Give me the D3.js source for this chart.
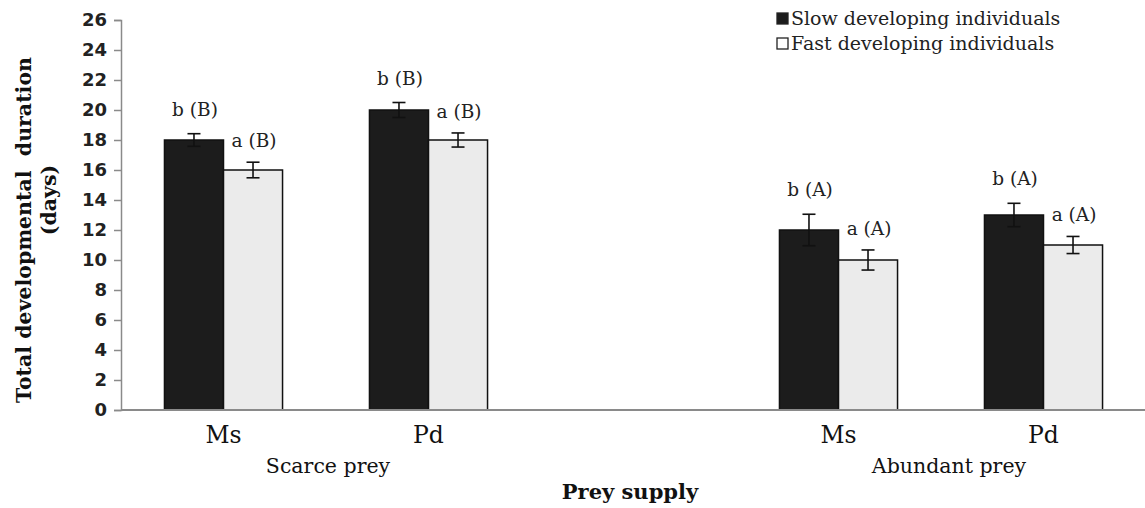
<!DOCTYPE html>
<html>
<head>
<meta charset="utf-8">
<script src="https://cdn.jsdelivr.net/npm/d3@7"></script>
<style>
  html, body { margin: 0; padding: 0; background: #ffffff; }
  svg { display: block; }
</style>
</head>
<body>
<svg id="chart" width="1145" height="508"></svg>
<script>
// ---- data ----
const slots = ["Scarce-Ms", "Scarce-Pd", "gap", "Abundant-Ms", "Abundant-Pd"];
const categoryKeys = ["Scarce-Ms", "Scarce-Pd", "Abundant-Ms", "Abundant-Pd"];
const categoryLabels = ["Ms", "Pd", "Ms", "Pd"];
const groupNames = ["Scarce prey", "Abundant prey"];
const groupMembers = [["Scarce-Ms", "Scarce-Pd"], ["Abundant-Ms", "Abundant-Pd"]];
const seriesNames = ["Slow developing individuals", "Fast developing individuals"];
const slowValues = [18, 20, 12, 13];
const fastValues = [16, 18, 10, 11];
const slowErrors = [0.42, 0.5, 1.05, 0.78];
const fastErrors = [0.52, 0.47, 0.67, 0.57];
const slowLetters = ["b (B)", "b (B)", "b (A)", "b (A)"];
const fastLetters = ["a (B)", "a (B)", "a (A)", "a (A)"];
const yTicks = [0, 2, 4, 6, 8, 10, 12, 14, 16, 18, 20, 22, 24, 26];

// ---- layout ----
const svg = d3.select("#chart");
const mLeft = 121, mRight = 1146, mTop = 20, mBottom = 410;

const x0 = d3.scaleBand().domain(slots).range([mLeft, mRight]).paddingInner(0).paddingOuter(0);
const groupWidth = x0.bandwidth() * 0.576;
const x1 = d3.scaleBand().domain(seriesNames).range([0, groupWidth]).padding(0);
const y = d3.scaleLinear().domain([0, 26]).range([mBottom, mTop]);

const fills = ["#1c1c1c", "#ebebeb"];
const serif = "'DejaVu Serif', serif";

const rows = [];
categoryKeys.forEach((k, i) => {
  rows.push({ key: k, s: 0, v: slowValues[i], e: slowErrors[i], t: slowLetters[i] });
  rows.push({ key: k, s: 1, v: fastValues[i], e: fastErrors[i], t: fastLetters[i] });
});
const bx = d => x0(d.key) + (x0.bandwidth() - groupWidth) / 2 + x1(seriesNames[d.s]);

// bars
svg.append("g").selectAll("rect").data(rows).join("rect")
  .attr("x", d => bx(d))
  .attr("y", d => y(d.v))
  .attr("width", x1.bandwidth())
  .attr("height", d => y(0) - y(d.v))
  .attr("fill", d => fills[d.s])
  .attr("stroke", "#111")
  .attr("stroke-width", 1.5);

// error bars
const eg = svg.append("g").attr("stroke", "#111").attr("stroke-width", 1.6);
rows.forEach(d => {
  const cx = bx(d) + x1.bandwidth() / 2;
  eg.append("line").attr("x1", cx).attr("x2", cx).attr("y1", y(d.v + d.e)).attr("y2", y(d.v - d.e));
  eg.append("line").attr("x1", cx - 6.5).attr("x2", cx + 6.5).attr("y1", y(d.v + d.e)).attr("y2", y(d.v + d.e));
  eg.append("line").attr("x1", cx - 6.5).attr("x2", cx + 6.5).attr("y1", y(d.v - d.e)).attr("y2", y(d.v - d.e));
});

// significance letters
svg.append("g").selectAll("text").data(rows).join("text")
  .attr("x", d => bx(d) + x1.bandwidth() / 2 + 1)
  .attr("y", d => y(d.v + d.e) - (d.s === 0 ? 18 : 15))
  .attr("text-anchor", "middle")
  .attr("font-family", serif)
  .attr("font-size", 18.5)
  .attr("fill", "#222")
  .text(d => d.t);

// y axis
const yAxis = svg.append("g").attr("transform", `translate(${mLeft},0)`)
  .call(d3.axisLeft(y).tickValues(yTicks).tickSize(7).tickPadding(7));
yAxis.select(".domain").attr("stroke", "#8a8a8a").attr("stroke-width", 1.5);
yAxis.selectAll(".tick line").attr("stroke", "#8a8a8a").attr("stroke-width", 1.5);
yAxis.selectAll(".tick text")
  .attr("font-family", "'DejaVu Sans', sans-serif")
  .attr("font-weight", "bold")
  .attr("font-size", 18)
  .attr("fill", "#222");

// x axis line
svg.append("line").attr("x1", mLeft).attr("x2", mRight).attr("y1", y(0)).attr("y2", y(0))
  .attr("stroke", "#8a8a8a").attr("stroke-width", 2);

// category labels
svg.append("g").selectAll("text").data(categoryKeys).join("text")
  .attr("x", k => x0(k) + x0.bandwidth() / 2)
  .attr("y", 443)
  .attr("text-anchor", "middle")
  .attr("font-family", serif)
  .attr("font-size", 23.5)
  .attr("fill", "#111")
  .text((k, i) => categoryLabels[i]);

// group labels
svg.append("g").selectAll("text").data(groupNames).join("text")
  .attr("x", (g, i) => {
    const m = groupMembers[i];
    return (x0(m[0]) + x0(m[1]) + x0.bandwidth()) / 2 + (i === 1 ? 8 : 2);
  })
  .attr("y", 473)
  .attr("text-anchor", "middle")
  .attr("font-family", serif)
  .attr("font-size", 20.5)
  .attr("fill", "#111")
  .text(g => g);

// x axis title
svg.append("text")
  .attr("x", 630).attr("y", 499)
  .attr("text-anchor", "middle")
  .attr("font-family", serif)
  .attr("font-weight", "bold")
  .attr("font-size", 21)
  .attr("fill", "#111")
  .text("Prey supply");

// y axis title
const yt = svg.append("text")
  .attr("transform", "translate(0,230) rotate(-90)")
  .attr("xml:space", "preserve")
  .attr("text-anchor", "middle")
  .attr("font-family", serif)
  .attr("font-weight", "bold")
  .attr("font-size", 20.5)
  .attr("fill", "#111");
yt.append("tspan").attr("x", 0).attr("y", 31).text("Total developmental  duration");
yt.append("tspan").attr("x", 30).attr("y", 56).text("(days)");

// legend
const lg = svg.append("g").attr("transform", "translate(777,0)");
seriesNames.forEach((n, i) => {
  lg.append("rect").attr("x", 0).attr("y", 13 + i * 25).attr("width", 11).attr("height", 11)
    .attr("fill", fills[i] === "#ebebeb" ? "#ffffff" : fills[i])
    .attr("stroke", "#222").attr("stroke-width", 1.3);
  lg.append("text").attr("x", 14).attr("y", 25 + i * 25)
    .attr("font-family", serif)
    .attr("font-size", 19)
    .attr("fill", "#222")
    .text(n);
});
</script>
</body>
</html>
